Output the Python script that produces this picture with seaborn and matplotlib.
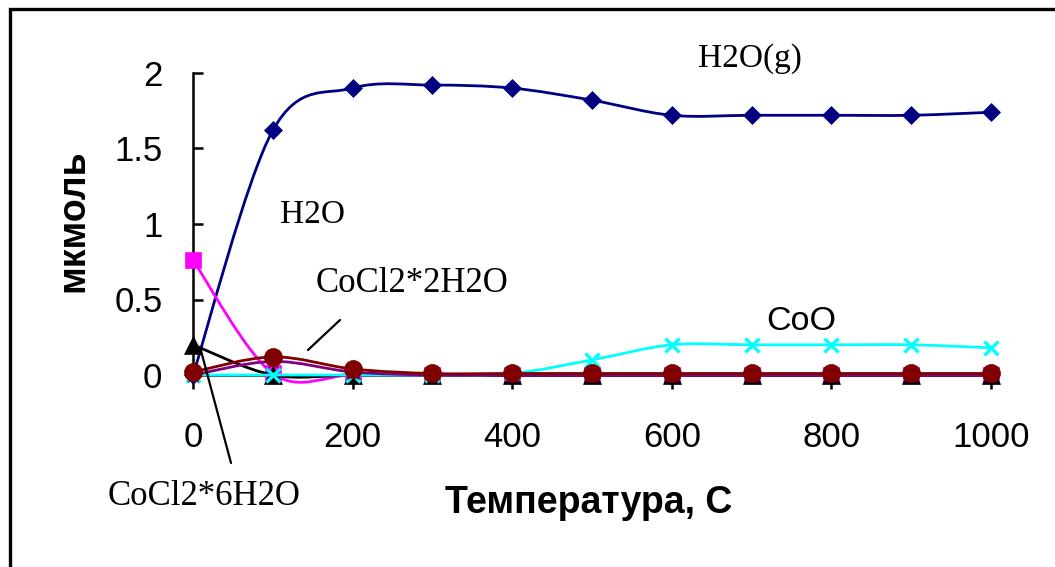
import numpy as np
import pandas as pd
import matplotlib
matplotlib.use("Agg")
import matplotlib.pyplot as plt
import seaborn as sns
from matplotlib.path import Path
from matplotlib.patches import PathPatch, Rectangle

# ---------------- data ----------------
temperature = [0, 100, 200, 300, 400, 500, 600, 700, 800, 900, 1000]
h2o_gas     = [0.00, 1.62, 1.90, 1.92, 1.90, 1.82, 1.72, 1.72, 1.72, 1.72, 1.74]
h2o_liquid  = [0.76, 0.01, 0.00, 0.00, 0.00, 0.00, 0.00, 0.00, 0.00, 0.00, 0.00]
cocl2_6h2o  = [0.20, 0.00, 0.00, 0.00, 0.00, 0.00, 0.00, 0.00, 0.00, 0.00, 0.00]
coo         = [0.00, 0.00, 0.00, 0.00, 0.01, 0.10, 0.20, 0.20, 0.20, 0.20, 0.18]
cocl2_h2o   = [0.00, 0.09, 0.02, 0.00, 0.00, 0.00, 0.00, 0.00, 0.00, 0.00, 0.00]
cocl2_2h2o  = [0.02, 0.12, 0.04, 0.01, 0.01, 0.01, 0.01, 0.01, 0.01, 0.01, 0.01]

x_ticks = [0, 200, 400, 600, 800, 1000]
y_ticks = [0, 0.5, 1, 1.5, 2]
y_tick_labels = ["0", "0.5", "1", "1.5", "2"]

W, H = 1055, 567
sns.set_theme(style="white")
plt.rcParams["font.family"] = ["Liberation Sans", "DejaVu Sans"]

fig = plt.figure(figsize=(W / 100, H / 100), dpi=100)
fig.patch.set_facecolor("white")

def fx(px):
    return px / W

def fy(py):
    return 1 - py / H

ax = fig.add_axes([fx(193), fy(375), fx(991) - fx(193), fy(73) - fy(375)])
ax.set_facecolor("white")


def smooth_path(xs, ys):
    pts = np.column_stack([xs, ys]).astype(float)
    n = len(pts)
    verts = [pts[0]]
    codes = [Path.MOVETO]
    for i in range(n - 1):
        p0 = pts[i - 1] if i > 0 else pts[i]
        p1 = pts[i]
        p2 = pts[i + 1]
        p3 = pts[i + 2] if i + 2 < n else pts[i + 1]
        c1 = p1 + (p2 - p0) / 6.0
        c2 = p2 - (p3 - p1) / 6.0
        verts += [c1, c2, p2]
        codes += [Path.CURVE4] * 3
    return Path(verts, codes)


series = [
    (h2o_gas,    "#000080", dict(marker="D", markersize=9.5, markeredgewidth=0.5)),
    (h2o_liquid, "#FF00FF", dict(marker="s", markersize=11, markeredgewidth=0.5)),
    (cocl2_6h2o, "#000000", dict(marker="^", markersize=13, markeredgewidth=0.5)),
    (coo,        "#00FFFF", dict(marker="x", markersize=10, markeredgewidth=2.4)),
    (cocl2_h2o,  "#800080", dict(marker="*", markersize=12, markeredgewidth=0.5)),
    (cocl2_2h2o, "#800000", dict(marker="o", markersize=13, markeredgewidth=0.5)),
]

for k, (vals, col, mk) in enumerate(series):
    z = 3 + k
    patch = PathPatch(smooth_path(temperature, vals), facecolor="none",
                      edgecolor=col, lw=2.0, zorder=z, clip_on=False)
    ax.add_patch(patch)
    df = pd.DataFrame({"T": temperature, "v": vals})
    sns.lineplot(data=df, x="T", y="v", ax=ax, color=col, linestyle="none",
                 markeredgecolor=col, legend=False, zorder=z + 0.5,
                 clip_on=False, **mk)

ax.set_xlim(0, 1000)
ax.set_ylim(0, 2)
ax.set_xticks(x_ticks)
ax.set_xticklabels([str(t) for t in x_ticks])
ax.set_yticks(y_ticks)
ax.set_yticklabels(y_tick_labels)
ax.set_xlabel("")
ax.set_ylabel("")

for s in ["top", "right"]:
    ax.spines[s].set_visible(False)
for s in ["left", "bottom"]:
    ax.spines[s].set_color("black")
    ax.spines[s].set_linewidth(1.8)
    ax.spines[s].set_zorder(2.5)

ax.tick_params(axis="x", direction="out", length=10, width=1.8, color="black",
               pad=23, labelsize=25, labelcolor="black", bottom=True)
ax.tick_params(axis="y", direction="in", length=7, width=1.8, color="black",
               pad=22, labelsize=25, labelcolor="black", left=True)
ax.grid(False)

# axis titles
fig.text(fx(589), fy(513), "Температура, С", ha="center", va="baseline",
         fontsize=27, fontweight="bold", color="black")
fig.text(fx(83), fy(221), "мкмоль", ha="center", va="baseline", rotation=90,
         rotation_mode="anchor", fontsize=27, fontweight="bold", color="black")

# annotations
serif = ["Liberation Serif", "DejaVu Serif"]
fig.text(fx(698), fy(67), "H2O(g)", ha="left", va="baseline", fontsize=24,
         family=serif, color="black")
fig.text(fx(280), fy(223), "H2O", ha="left", va="baseline", fontsize=24,
         family=serif, color="black")
fig.text(fx(316), fy(292), "CoCl2*2H2O", ha="left", va="baseline", fontsize=25,
         family=serif, color="black")
fig.text(fx(108), fy(505), "CoCl2*6H2O", ha="left", va="baseline", fontsize=25,
         family=serif, color="black")
fig.text(fx(766), fy(330), "CoO", ha="left", va="baseline", fontsize=24.5,
         color="black")

# pointer lines (figure pixel positions)
fig.add_artist(plt.Line2D([fx(308), fx(340)], [fy(350), fy(320)],
                          color="black", lw=1.6))
fig.add_artist(plt.Line2D([fx(200), fx(231)], [fy(347), fy(463)],
                          color="black", lw=1.6))

# chart border
fig.add_artist(Rectangle((fx(9.5), -0.1), 1.2, fy(8.5) + 0.1,
                         transform=fig.transFigure, fill=False,
                         edgecolor="black", lw=2.4))

fig.savefig("out.png", dpi=100, facecolor="white")
